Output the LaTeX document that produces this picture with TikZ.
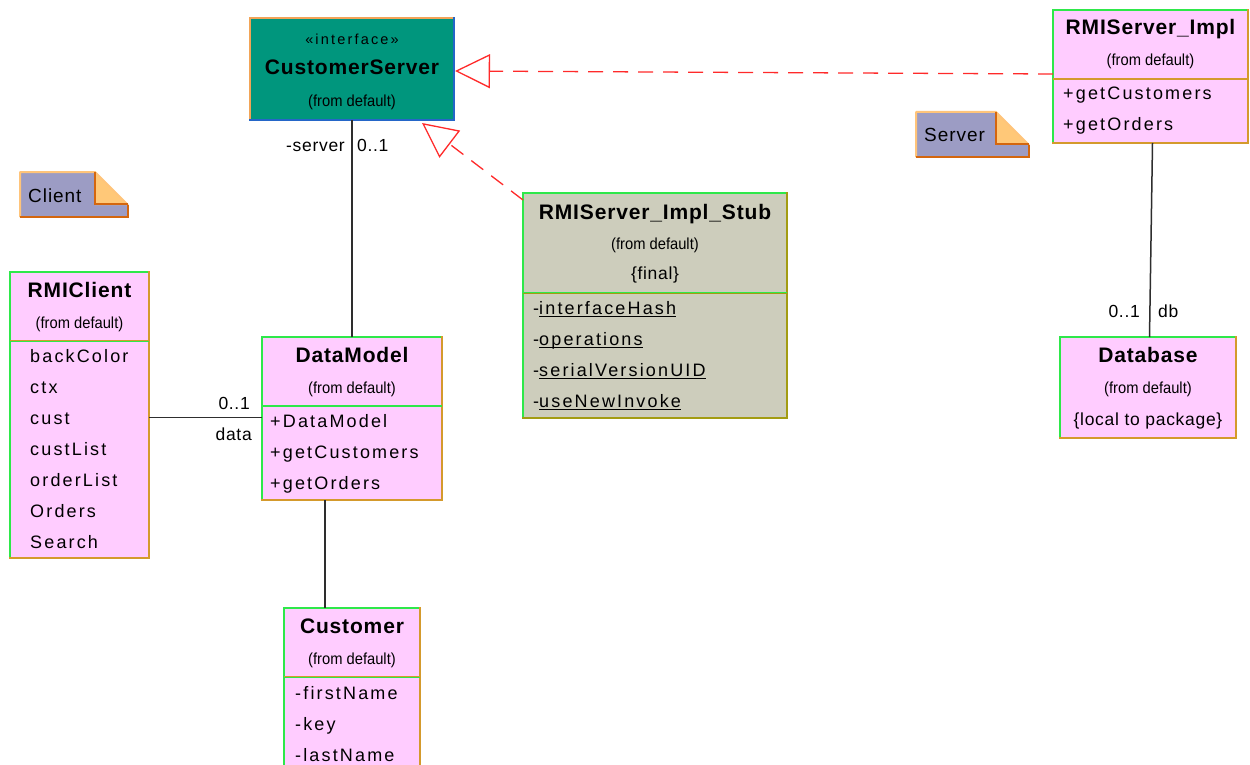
\documentclass[tikz,border=0pt]{standalone}
\usepackage{fontspec}
\setmainfont{Liberation Sans}
\newfontfamily\attrfont[LetterSpace=12]{Liberation Sans}
\newfontfamily\namefont[LetterSpace=4]{Liberation Sans}
\newfontfamily\labfont[LetterSpace=4]{Liberation Sans}
\newfontfamily\notefont[LetterSpace=5]{Liberation Sans}
\newfontfamily\stereofont[LetterSpace=15]{Liberation Sans}
\newfontfamily\fromfont[FakeStretch=0.92]{Liberation Sans}
\usetikzlibrary{arrows.meta,calc,fit}

\definecolor{umlpink}{HTML}{FFCCFF}
\definecolor{umlgreen}{HTML}{2EE84A}
\definecolor{umlgold}{HTML}{D49A2C}
\definecolor{stubgray}{HTML}{CDCDBC}
\definecolor{stubolive}{HTML}{A39C12}
\definecolor{ifteal}{HTML}{00967D}
\definecolor{iforange}{HTML}{F2A457}
\definecolor{ifblue}{HTML}{2466C8}
\definecolor{notefill}{HTML}{9C9CC4}
\definecolor{notefold}{HTML}{FFC878}
\definecolor{notelight}{HTML}{FFC47A}
\definecolor{notedark}{HTML}{D4660E}
\definecolor{realred}{HTML}{FF2A2A}
\definecolor{assocgray}{HTML}{2E2E2E}

% underlined (static) member name
\newcommand\ulname[1]{\setbox0=\hbox{#1}\rlap{\rule[-3pt]{\wd0}{1.3pt}}\box0}

% class box: name, x1, y1, x2, y2, fill, light edge, dark edge
\newcommand\classbox[8]{%
  \node[fit={(#2,#3) (#4,#5)}, inner sep=0pt, outer sep=0pt, fill=#6] (#1) {};
  \draw[boxedge, #7] (#1.south west) -- (#1.north west) -- (#1.north east);
  \draw[boxedge, #8] (#1.north east) -- (#1.south east) -- (#1.south west);
}
% compartment separator: box, y, upper colour, lower colour
\newcommand\classsep[4]{%
  \draw[line width=1.4pt, #3] (#1.west |- 0,#2-0.7) -- (#1.east |- 0,#2-0.7);
  \draw[line width=1.4pt, #4] (#1.west |- 0,#2+0.7) -- (#1.east |- 0,#2+0.7);
}
% note with folded corner: x1, y1, x2, y2, fold size
\newcommand\umlnote[5]{%
  \fill[notefill] (#1,#2) -- (#3-#5,#2) -- (#3,#2+#5) -- (#3,#4) -- (#1,#4) -- cycle;
  \fill[notefold] (#3-#5,#2) -- (#3-#5,#2+#5) -- (#3,#2+#5) -- cycle;
  \draw[notelight, line width=2pt, line join=round] (#1,#4) -- (#1,#2) -- (#3-#5,#2) -- (#3,#2+#5);
  \draw[notedark, line width=2.5pt] (#3-#5,#2) -- (#3-#5,#2+#5-1) -- (#3,#2+#5-1);
  \draw[notedark, line width=2.5pt] (#3,#2+#5) -- (#3,#4) -- (#1,#4);
}

\begin{document}
\begin{tikzpicture}[x=1pt, y=-1pt,
  boxedge/.style={line width=2.8pt, line cap=rect},
  nm/.style={anchor=base, inner sep=0pt, font=\namefont\bfseries\fontsize{21}{24}\selectfont},
  fromd/.style={anchor=base, inner sep=0pt, font=\fromfont\fontsize{16}{18}\selectfont},
  stereo/.style={anchor=base, inner sep=0pt, font=\stereofont\fontsize{14.5}{17}\selectfont},
  attr/.style={anchor=base west, inner sep=0pt, font=\attrfont\fontsize{18}{21}\selectfont},
  lab/.style={anchor=base, inner sep=0pt, font=\labfont\fontsize{17.5}{20}\selectfont},
  notetext/.style={anchor=base west, inner sep=0pt, font=\notefont\fontsize{19}{22}\selectfont},
  assoc/.style={draw=assocgray, line width=1.5pt},
  realize/.style={draw=realred, line width=1.3pt, dash pattern=on 15pt off 10pt,
    -{Triangle[open, length=35pt, width=34pt]}}]

\useasboundingbox (0,0) rectangle (1250,765);
\clip (0,0) rectangle (1250,765);
\fill[white] (0,0) rectangle (1250,765);

% ---- package notes
\umlnote{20}{172}{128}{217}{33}
\node[notetext] (clientnote) at (28,202) {Client};
\umlnote{916}{112}{1029}{157}{33}
\node[notetext] (servernote) at (924,142) {Server};

% ---- interface CustomerServer
\classbox{cs}{250}{18}{454}{120}{ifteal}{iforange}{ifblue}
\node[stereo] (cs-st) at (352,45) {«interface»};
\node[nm] (cs-nm) at (352,75) {CustomerServer};
\node[fromd] (cs-from) at (352,107) {(from default)};

% ---- RMIServer_Impl
\classbox{rs}{1053}{10}{1248}{143}{umlpink}{umlgreen}{umlgold}
\node[nm] (rs-nm) at (1150.5,35) {RMIServer\_Impl};
\node[fromd] (rs-from) at (1150.5,66) {(from default)};
\classsep{rs}{79}{umlgold}{umlgold}
\node[attr] (rs-a1) at (1063,100) {+getCustomers};
\node[attr] (rs-a2) at (1063,131) {+getOrders};

% ---- RMIClient
\classbox{rc}{10}{272}{149}{558}{umlpink}{umlgreen}{umlgold}
\node[nm] (rc-nm) at (79.5,297) {RMIClient};
\node[fromd] (rc-from) at (79.5,328) {(from default)};
\classsep{rc}{341}{umlgold}{umlgreen}
\node[attr] (rc-a1) at (30,362) {backColor};
\node[attr] (rc-a2) at (30,393) {ctx};
\node[attr] (rc-a3) at (30,424) {cust};
\node[attr] (rc-a4) at (30,455) {custList};
\node[attr] (rc-a5) at (30,486) {orderList};
\node[attr] (rc-a6) at (30,517) {Orders};
\node[attr] (rc-a7) at (30,548) {Search};

% ---- DataModel
\classbox{dm}{262}{337}{442}{500}{umlpink}{umlgreen}{umlgold}
\node[nm] (dm-nm) at (352,362) {DataModel};
\node[fromd] (dm-from) at (352,393) {(from default)};
\classsep{dm}{406}{umlgreen}{umlgreen}
\node[attr] (dm-a1) at (270,427) {+DataModel};
\node[attr] (dm-a2) at (270,458) {+getCustomers};
\node[attr] (dm-a3) at (270,489) {+getOrders};

% ---- Customer
\classbox{cu}{284}{608}{420}{790}{umlpink}{umlgreen}{umlgold}
\node[nm] (cu-nm) at (352,633) {Customer};
\node[fromd] (cu-from) at (352,664) {(from default)};
\classsep{cu}{677}{umlgold}{umlgreen}
\node[attr] (cu-a1) at (295,699) {-firstName};
\node[attr] (cu-a2) at (295,730) {-key};
\node[attr] (cu-a3) at (295,761) {-lastName};

% ---- RMIServer_Impl_Stub
\classbox{stub}{523}{193}{787}{418}{stubgray}{umlgreen}{stubolive}
\node[nm] (stub-nm) at (655,219) {RMIServer\_Impl\_Stub};
\node[fromd] (stub-from) at (655,249) {(from default)};
\node[lab] (stub-final) at (655,279) {\{final\}};
\classsep{stub}{293}{umlgreen}{stubolive}
\node[attr] (stub-a1) at (533,314) {-\ulname{interfaceHash}};
\node[attr] (stub-a2) at (533,345) {-\ulname{operations}};
\node[attr] (stub-a3) at (533,376) {-\ulname{serialVersionUID}};
\node[attr] (stub-a4) at (533,407) {-\ulname{useNewInvoke}};

% ---- Database
\classbox{db}{1060}{337}{1236}{438}{umlpink}{umlgreen}{umlgold}
\node[nm] (db-nm) at (1148,362) {Database};
\node[fromd] (db-from) at (1148,393) {(from default)};
\node[lab] (db-local) at (1148,425) {\{local to package\}};

% ---- associations
\draw[assoc] (cs.south) -- (dm.north);
\node[lab, anchor=base east] (lab-server) at (345,151) {-server};
\node[lab, anchor=base west] (lab-sm) at (357,151) {0..1};

\path ($(rc.east)+(0,2.3)$) coordinate (rcdm);
\draw[assoc] (rcdm) -- (rcdm -| dm.west);
\node[lab, anchor=base east] (lab-dm) at (250,409) {0..1};
\node[lab, anchor=base east] (lab-data) at (252,440) {data};

\draw[assoc] ([xshift=-27pt]dm.south) -- ([xshift=-27pt]cu.north);

\draw[assoc] ($(rs.south)+(2,0)$) -- ($(db.north)+(1.5,0)$);
\node[lab, anchor=base east] (lab-dbm) at (1140,317) {0..1};
\node[lab, anchor=base west] (lab-db) at (1158,317) {db};

% ---- realizations
\draw[realize] ($(rs.west)+(0,-2.5)$) -- ($(cs.east)+(1,2)$);
\draw[realize] ($(stub.north west)+(0,7)$) -- ($(cs.south)+(70,3)$);

\end{tikzpicture}
\end{document}
